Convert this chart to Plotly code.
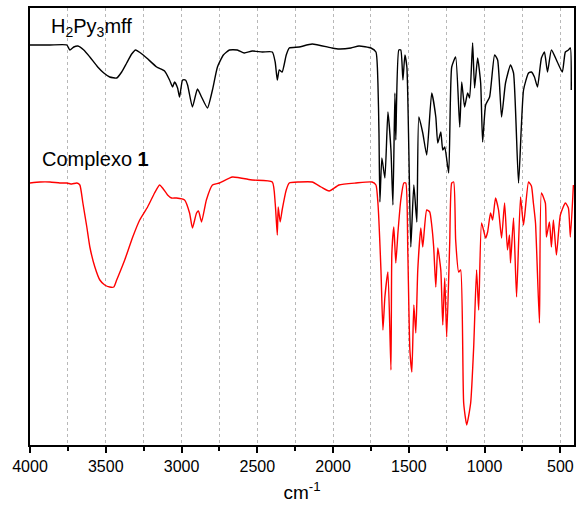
import plotly.graph_objects as go

# H2Py3mff spectrum (wavenumber cm-1, transmittance a.u.)
wn_ligand = [4000, 3868, 3757, 3737, 3711, 3684, 3645, 3605, 3553, 3513, 3474, 3428, 3395, 3362, 3329, 3303,
             3270, 3230, 3164, 3112, 3079, 3059, 3046, 3026, 3013, 2993, 2974, 2960, 2928, 2895, 2868, 2829,
             2796, 2763, 2724, 2684, 2632, 2586, 2533, 2467, 2401, 2382, 2368, 2355, 2336, 2309, 2289, 2224,
             2138, 2007, 1961, 1882, 1829, 1750, 1717, 1704, 1697, 1691, 1678, 1658, 1638, 1618, 1605, 1592,
             1586, 1566, 1553, 1539, 1526, 1513, 1500, 1487, 1467, 1447, 1434, 1408, 1382, 1349, 1322, 1309,
             1289, 1276, 1263, 1237, 1217, 1191, 1164, 1151, 1132, 1112, 1099, 1079, 1066, 1046, 1026, 1013,
             993, 967, 934, 914, 888, 862, 829, 809, 776, 743, 710, 691, 671, 651, 625, 605, 585, 559, 520,
             487, 467, 447, 434, 428]
t_ligand = [400, 400, 400, 395, 398, 399, 395, 388, 378, 372, 368, 367, 373, 382, 391, 395,
            392, 387, 378, 374, 365, 358, 363, 357, 348, 365, 365, 360, 338, 356, 348, 337,
            355, 378, 390, 395, 395, 392, 394, 393, 393, 383, 365, 375, 373, 390, 397, 398,
            401, 397, 396, 397, 399, 397, 393, 362, 312, 243, 287, 267, 333, 295, 240, 352,
            305, 395, 395, 365, 390, 378, 295, 198, 260, 223, 328, 312, 290, 352, 328, 302,
            313, 295, 298, 272, 378, 388, 318, 363, 338, 352, 347, 402, 357, 387, 362, 303,
            340, 348, 390, 385, 328, 362, 380, 372, 262, 355, 372, 373, 368, 358, 387, 393, 373, 395, 383,
            373, 393, 395, 397, 355]

# Complexo 1 spectrum
wn_complex = [4000, 3934, 3868, 3803, 3757, 3724, 3691, 3671, 3651, 3625, 3605, 3572, 3539, 3507, 3474, 3447,
              3428, 3401, 3375, 3322, 3276, 3224, 3178, 3145, 3125, 3092, 3066, 3033, 2980, 2947, 2928, 2901,
              2888, 2868, 2836, 2796, 2750, 2664, 2533, 2401, 2382, 2368, 2362, 2349, 2336, 2309, 2289, 2224,
              2138, 2079, 2026, 1961, 1849, 1743, 1717, 1704, 1684, 1671, 1658, 1638, 1618, 1612, 1599, 1586,
              1572, 1553, 1533, 1520, 1507, 1493, 1480, 1467, 1454, 1441, 1421, 1408, 1382, 1362, 1349, 1336,
              1322, 1309, 1289, 1276, 1263, 1250, 1230, 1217, 1204, 1191, 1171, 1158, 1138, 1118, 1092, 1072,
              1053, 1039, 1020, 993, 980, 961, 947, 928, 908, 888, 868, 849, 836, 829, 809, 789, 763, 743,
              710, 691, 678, 664, 638, 625, 599, 592, 572, 559, 546, 526, 500, 467, 447, 434, 414]
t_complex = [262, 263, 263, 262, 262, 261, 262, 260, 242, 218, 198, 178, 165, 160, 158, 158,
             165, 175, 185, 208, 225, 238, 252, 260, 257, 250, 247, 247, 245, 232, 217, 232,
             234, 223, 245, 260, 262, 268, 265, 263, 242, 210, 238, 223, 235, 255, 262, 263,
             263, 258, 254, 260, 262, 263, 260, 242, 175, 115, 148, 173, 75, 192, 218, 182,
             212, 245, 262, 262, 195, 95, 73, 140, 112, 175, 217, 198, 235, 233, 220, 198,
             158, 197, 175, 120, 167, 108, 203, 262, 263, 205, 173, 175, 42, 20, 42, 98,
             175, 135, 222, 207, 213, 232, 225, 247, 235, 207, 242, 195, 210, 182, 227, 148, 248, 220,
             263, 259, 242, 222, 122, 252, 242, 208, 223, 198, 225, 190, 230, 242, 237, 208, 260]

labels = ["H<sub>2</sub>Py<sub>3</sub>mff", "Complexo <b>1</b>"]
x_range = [4000, 410]

fig = go.Figure()
fig.add_trace(go.Scatter(x=wn_ligand, y=t_ligand, mode="lines",
                         line=dict(color="black", width=1.4, shape="spline", smoothing=0.5),
                         name=labels[0], showlegend=False))
fig.add_trace(go.Scatter(x=wn_complex, y=t_complex, mode="lines",
                         line=dict(color="#ff0000", width=1.4, shape="spline", smoothing=0.5),
                         name=labels[1], showlegend=False))

fig.add_annotation(x=0.035, y=0.955, xref="paper", yref="paper", text=labels[0], showarrow=False,
                   xanchor="left", yanchor="middle", font=dict(family="Liberation Sans, Arial", size=20, color="black"))
fig.add_annotation(x=0.018, y=0.655, xref="paper", yref="paper", text=labels[1], showarrow=False,
                   xanchor="left", yanchor="middle", font=dict(family="Liberation Sans, Arial", size=20, color="black"))

fig.update_layout(
    width=578, height=515,
    margin=dict(l=30, r=2, t=8, b=70),
    plot_bgcolor="white", paper_bgcolor="white",
    font=dict(family="Liberation Sans, Arial", color="black"),
    xaxis=dict(
        range=x_range, tickmode="linear", tick0=0, dtick=500,
        ticks="outside", ticklen=6, tickwidth=1.5, tickcolor="black",
        tickfont=dict(size=16),
        showline=True, linecolor="black", linewidth=1.8, mirror=True,
        showgrid=False,
        minor=dict(dtick=250, tick0=0, ticks="outside", ticklen=4, tickcolor="black", showgrid=False),
        zeroline=False,
        title=dict(text="cm<sup>-1</sup>", font=dict(size=19), standoff=12),
    ),
    xaxis2=dict(
        range=x_range, overlaying="x", side="bottom", tickmode="linear", tick0=0, dtick=250,
        showticklabels=False, ticks="", showline=False, zeroline=False,
        showgrid=True, gridcolor="#b8b8b8", griddash="dot", gridwidth=1,
    ),
    yaxis=dict(
        range=[0, 437], showticklabels=False, ticks="",
        showline=True, linecolor="black", linewidth=1.8, mirror=True,
        showgrid=False, zeroline=False,
    ),
)
# invisible helper trace so the grid axis is drawn
fig.add_trace(go.Scatter(x=[x_range[0]], y=[None], xaxis="x2", yaxis="y", mode="lines",
                         showlegend=False, hoverinfo="skip"))

fig.write_html("out.html")
